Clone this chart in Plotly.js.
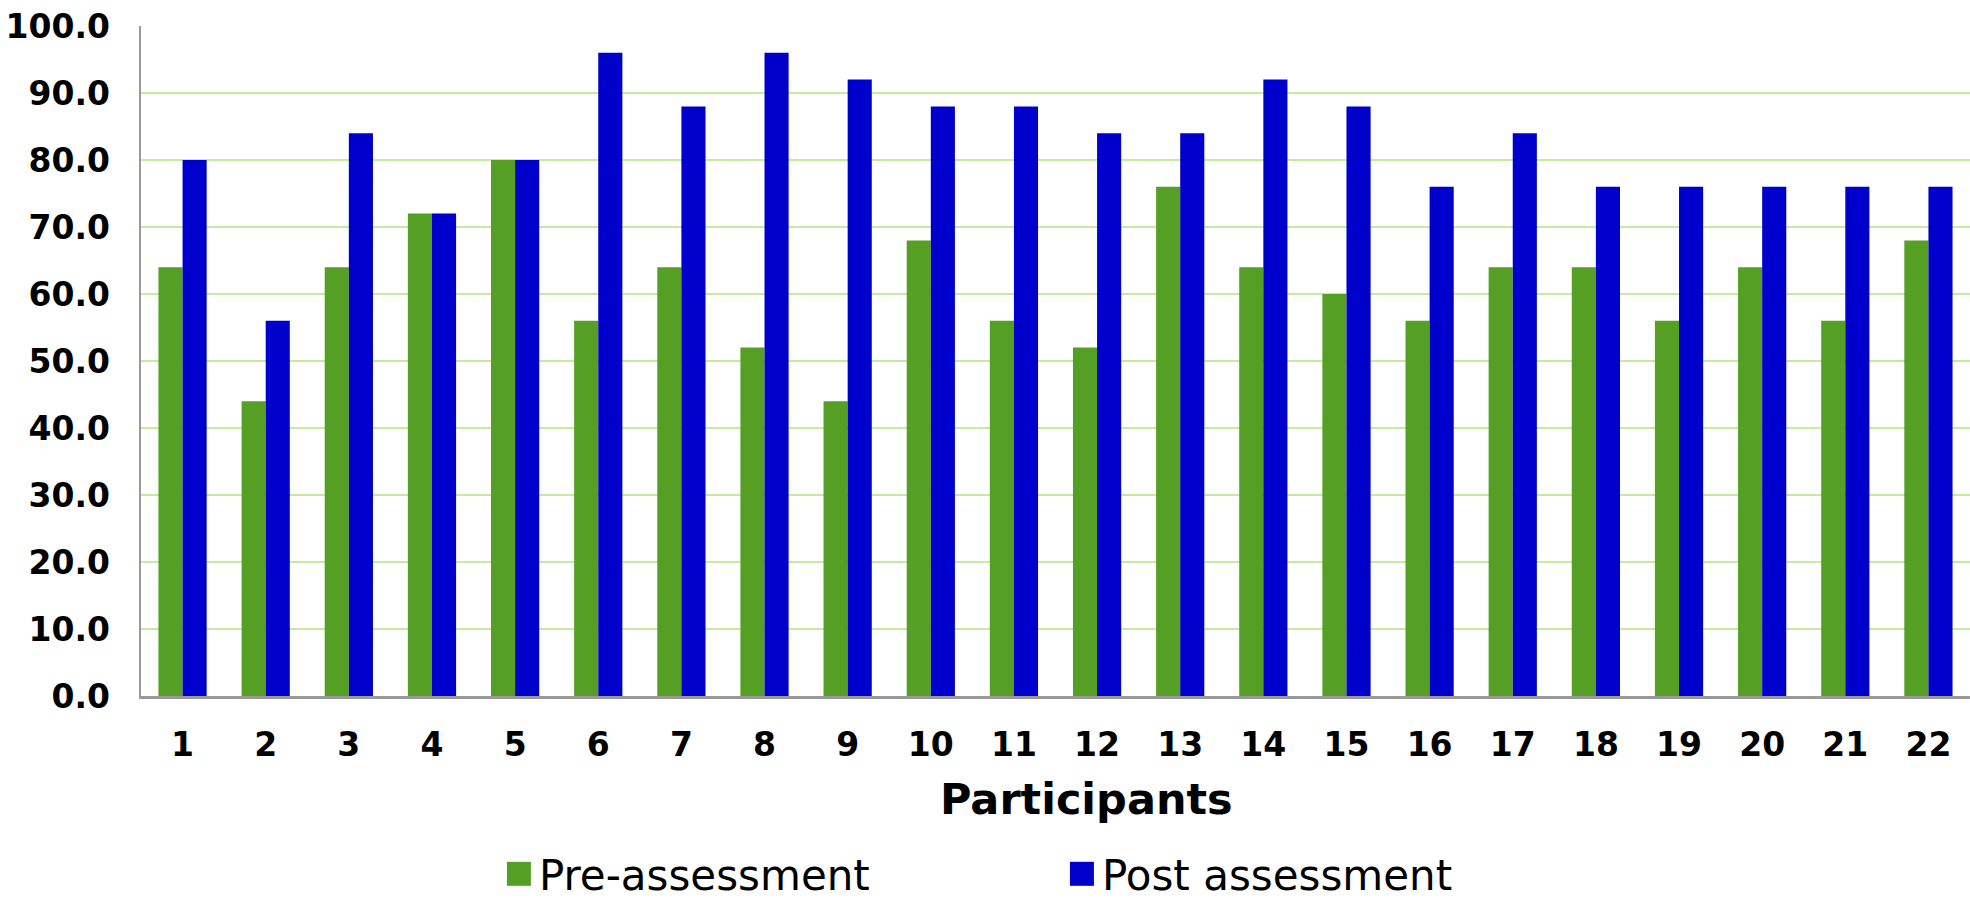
<!DOCTYPE html>
<html>
<head>
<meta charset="utf-8">
<script src="https://cdn.plot.ly/plotly-3.0.1.min.js"></script>
<style>
html,body{margin:0;padding:0;background:#fff;}
#chart{width:1970px;height:903px;}
</style>
</head>
<body>
<div id="chart"></div>
<script>
const participants = ['1','2','3','4','5','6','7','8','9','10','11','12','13','14','15','16','17','18','19','20','21','22'];
const preAssessment = [64,44,64,72,80,56,64,52,44,68,56,52,76,64,60,56,64,64,56,64,56,68];
const postAssessment = [80,56,84,72,80,96,88,96,92,88,88,84,84,92,88,76,84,76,76,76,76,76];
const yTicks = [0,10,20,30,40,50,60,70,80,90,100];
const xTitle = 'Participants';

const traces = [
  {type:'bar', name:'Pre-assessment', x:participants, y:preAssessment,
   marker:{color:'#55A024'}},
  {type:'bar', name:'Post assessment', x:participants, y:postAssessment,
   marker:{color:'#0000CC'}}
];

const FONT = '"DejaVu Sans", Verdana, sans-serif';

const layout = {
  width:1970, height:903,
  margin:{l:141, r:0, t:26, b:207, pad:0, autoexpand:false},
  paper_bgcolor:'#fff', plot_bgcolor:'#fff',
  barmode:'group', bargap:0.42, bargroupgap:0,
  font:{family:FONT, color:'#000'},
  xaxis:{
    type:'category',
    showline:true, linecolor:'#999', linewidth:2.5,
    showgrid:false, ticks:'',
    tickfont:{size:33, family:FONT, weight:'bold'},
    ticklabelstandoff:18
  },
  yaxis:{
    range:[0,100], tickvals:yTicks, tickformat:'.1f',
    showline:true, linecolor:'#999', linewidth:2.5,
    showgrid:true, gridcolor:'#c4eb9e', gridwidth:2.5,
    zeroline:false, ticks:'',
    tickfont:{size:33, family:FONT, weight:'bold'},
    ticklabelstandoff:22
  },
  annotations:[{
    text:'<b>'+xTitle+'</b>', xref:'paper', yref:'paper',
    x:0.517, y:-0.153, xanchor:'center', yanchor:'middle',
    showarrow:false, font:{size:43, family:FONT, color:'#000'}
  }],
  showlegend:true,
  legend:{
    orientation:'h', x:0.1957, xanchor:'left', y:-0.2657, yanchor:'middle',
    font:{size:42, family:FONT},
    entrywidth:518, entrywidthmode:'pixels',
    bgcolor:'rgba(0,0,0,0)', borderwidth:0
  }
};

Plotly.newPlot('chart', traces, layout, {staticPlot:true}).then(function(){
  document.querySelectorAll('.legend .legendpoints path').forEach(function(p){
    p.setAttribute('d','M12,12H-12V-12H12Z');
  });
});
</script>
</body>
</html>
